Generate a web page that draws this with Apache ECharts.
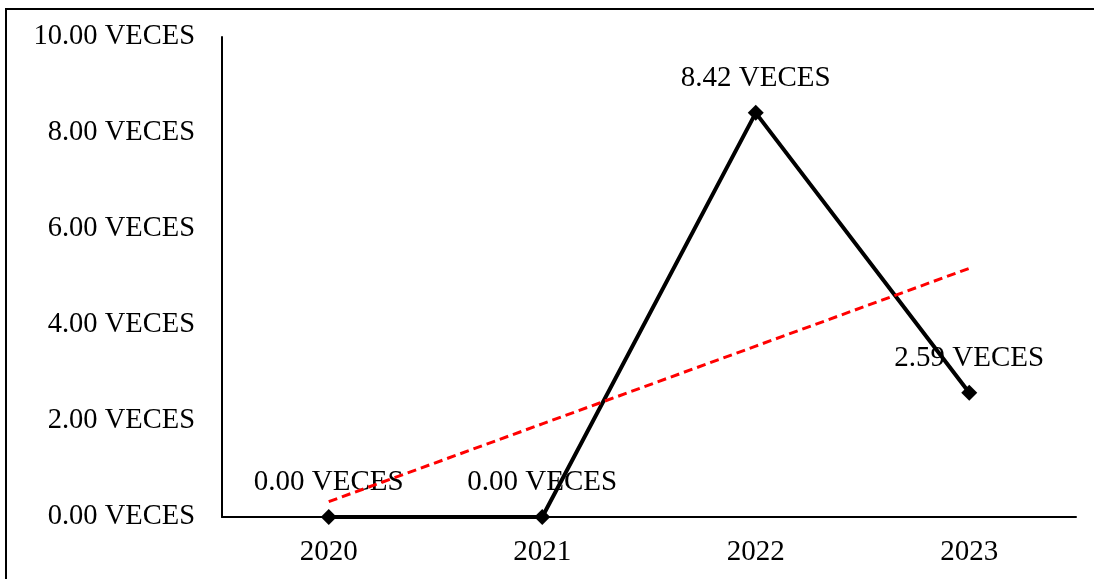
<!DOCTYPE html>
<html>
<head>
<meta charset="utf-8">
<script src="https://cdn.jsdelivr.net/npm/echarts@6/dist/echarts.min.js"></script>
<style>
  html, body { margin: 0; padding: 0; background: #fff; }
  #wrap { position: relative; width: 1094px; height: 579px; overflow: hidden; }
  #frame { position: absolute; left: 5px; top: 8px; width: 1200px; height: 700px;
           border-top: 2px solid #000; border-left: 2px solid #000; box-sizing: border-box; }
  #chart { position: absolute; left: 0; top: 0; width: 1094px; height: 579px; }
</style>
</head>
<body>
<div id="wrap">
  <div id="frame"></div>
  <div id="chart"></div>
</div>
<script>
// datos
const years = ['2020', '2021', '2022', '2023']
const veces = [0.00, 0.00, 8.42, 2.59]
// linea de tendencia
const tendencia = [0.32, 1.94, 3.56, 5.18]

const fuente = 'Liberation Serif, Times New Roman, serif'

const chart = echarts.init(document.getElementById('chart'))

chart.setOption({
  animation: false,
  grid: { left: 222, right: 18, top: 37, bottom: 62 },
  xAxis: {
    type: 'category',
    data: years,
    boundaryGap: true,
    axisLine: { lineStyle: { color: '#000', width: 2 } },
    axisTick: { show: false },
    axisLabel: { color: '#000', fontFamily: fuente, fontSize: 29, margin: 21 }
  },
  yAxis: {
    type: 'value',
    min: 0,
    max: 10,
    interval: 2,
    splitLine: { show: false },
    axisLine: { show: true, lineStyle: { color: '#000', width: 2 } },
    axisTick: { show: false },
    axisLabel: {
      color: '#000', fontFamily: fuente, fontSize: 28.5, margin: 27,
      formatter: v => v.toFixed(2) + ' VECES'
    }
  },
  series: [
    {
      name: 'Veces',
      type: 'line',
      data: veces,
      symbol: 'diamond',
      symbolSize: 16,
      itemStyle: { color: '#000' },
      lineStyle: { color: '#000', width: 4 },
      label: {
        show: true,
        position: 'top',
        distance: 12,
        color: '#000',
        fontFamily: fuente,
        fontSize: 29,
        formatter: p => p.value.toFixed(2) + ' VECES'
      },
      z: 2
    },
    {
      name: 'Tendencia',
      type: 'line',
      data: tendencia,
      symbol: 'none',
      lineStyle: { color: '#ff0000', width: 3, type: [9, 5] },
      z: 3
    }
  ]
})
</script>
</body>
</html>
